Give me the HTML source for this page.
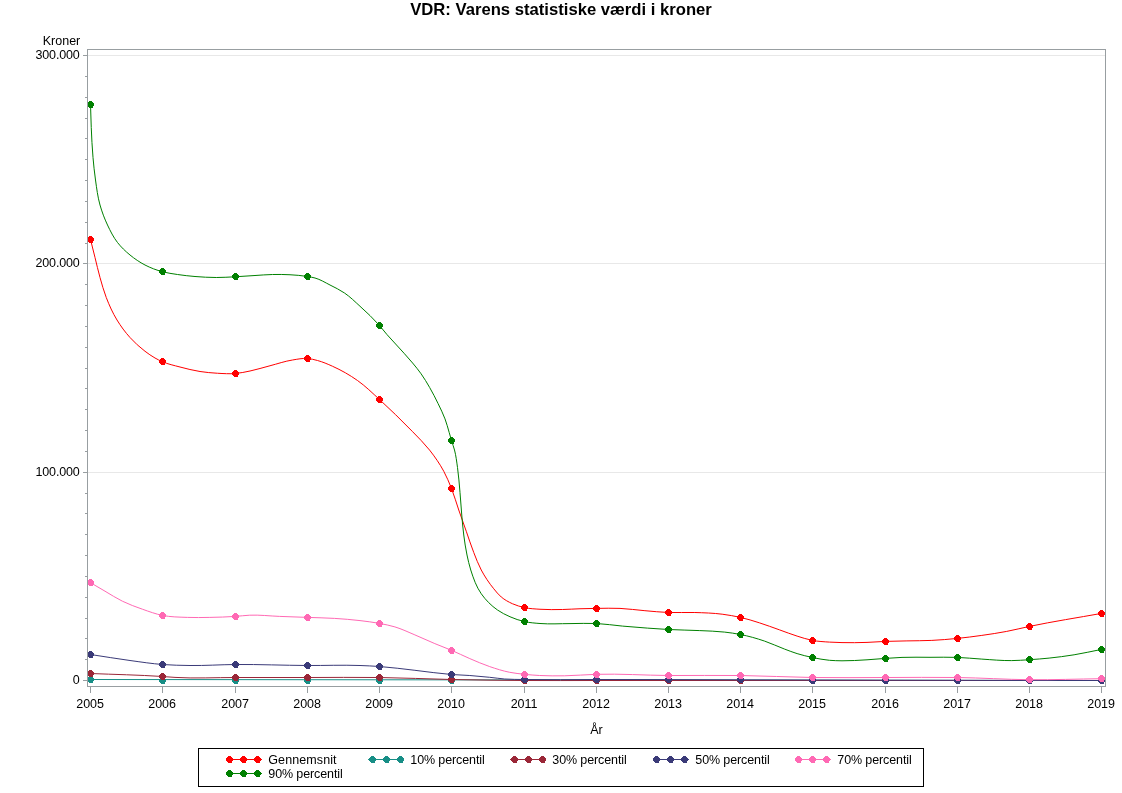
<!DOCTYPE html>
<html><head><meta charset="utf-8"><title>VDR: Varens statistiske værdi i kroner</title>
<style>
html,body{margin:0;padding:0;background:#fff;}
body{width:1122px;height:793px;overflow:hidden;font-family:"Liberation Sans",sans-serif;}
svg{display:block;will-change:transform;}
svg text{font-family:"Liberation Sans",sans-serif;font-size:12.5px;fill:#000;}
svg text.title{font-size:16.67px;font-weight:bold;}
</style></head>
<body>
<svg width="1122" height="793" viewBox="0 0 1122 793">
<rect x="0" y="0" width="1122" height="793" fill="#fff"/>
<text class="title" x="561" y="0" text-anchor="middle" transform="translate(0,14.7) scale(1,0.94)">VDR: Varens statistiske værdi i kroner</text>
<rect x="88" y="55" width="1017" height="1" fill="#E8E8E8"/>
<rect x="88" y="263" width="1017" height="1" fill="#E8E8E8"/>
<rect x="88" y="472" width="1017" height="1" fill="#E8E8E8"/>
<rect x="87.5" y="49.5" width="1018" height="637" fill="none" stroke="#989EA1" stroke-width="1" shape-rendering="crispEdges"/>
<rect x="83" y="680" width="4" height="1" fill="#989EA1"/>
<rect x="85" y="659" width="2" height="1" fill="#989EA1"/>
<rect x="85" y="638" width="2" height="1" fill="#989EA1"/>
<rect x="85" y="618" width="2" height="1" fill="#989EA1"/>
<rect x="85" y="597" width="2" height="1" fill="#989EA1"/>
<rect x="85" y="576" width="2" height="1" fill="#989EA1"/>
<rect x="85" y="555" width="2" height="1" fill="#989EA1"/>
<rect x="85" y="534" width="2" height="1" fill="#989EA1"/>
<rect x="85" y="513" width="2" height="1" fill="#989EA1"/>
<rect x="85" y="493" width="2" height="1" fill="#989EA1"/>
<rect x="83" y="472" width="4" height="1" fill="#989EA1"/>
<rect x="85" y="451" width="2" height="1" fill="#989EA1"/>
<rect x="85" y="430" width="2" height="1" fill="#989EA1"/>
<rect x="85" y="409" width="2" height="1" fill="#989EA1"/>
<rect x="85" y="388" width="2" height="1" fill="#989EA1"/>
<rect x="85" y="368" width="2" height="1" fill="#989EA1"/>
<rect x="85" y="347" width="2" height="1" fill="#989EA1"/>
<rect x="85" y="326" width="2" height="1" fill="#989EA1"/>
<rect x="85" y="305" width="2" height="1" fill="#989EA1"/>
<rect x="85" y="284" width="2" height="1" fill="#989EA1"/>
<rect x="83" y="263" width="4" height="1" fill="#989EA1"/>
<rect x="85" y="243" width="2" height="1" fill="#989EA1"/>
<rect x="85" y="222" width="2" height="1" fill="#989EA1"/>
<rect x="85" y="201" width="2" height="1" fill="#989EA1"/>
<rect x="85" y="180" width="2" height="1" fill="#989EA1"/>
<rect x="85" y="159" width="2" height="1" fill="#989EA1"/>
<rect x="85" y="138" width="2" height="1" fill="#989EA1"/>
<rect x="85" y="118" width="2" height="1" fill="#989EA1"/>
<rect x="85" y="97" width="2" height="1" fill="#989EA1"/>
<rect x="85" y="76" width="2" height="1" fill="#989EA1"/>
<rect x="83" y="55" width="4" height="1" fill="#989EA1"/>
<rect x="90" y="687" width="1" height="6" fill="#989EA1"/>
<rect x="162" y="687" width="1" height="6" fill="#989EA1"/>
<rect x="235" y="687" width="1" height="6" fill="#989EA1"/>
<rect x="307" y="687" width="1" height="6" fill="#989EA1"/>
<rect x="379" y="687" width="1" height="6" fill="#989EA1"/>
<rect x="451" y="687" width="1" height="6" fill="#989EA1"/>
<rect x="524" y="687" width="1" height="6" fill="#989EA1"/>
<rect x="596" y="687" width="1" height="6" fill="#989EA1"/>
<rect x="668" y="687" width="1" height="6" fill="#989EA1"/>
<rect x="740" y="687" width="1" height="6" fill="#989EA1"/>
<rect x="812" y="687" width="1" height="6" fill="#989EA1"/>
<rect x="885" y="687" width="1" height="6" fill="#989EA1"/>
<rect x="957" y="687" width="1" height="6" fill="#989EA1"/>
<rect x="1029" y="687" width="1" height="6" fill="#989EA1"/>
<rect x="1101" y="687" width="1" height="6" fill="#989EA1"/>
<defs><path id="m" d="M-1.5-3.5h3v1h1v1h1v3h-1v2h-4v-1h-1v-1h-1v-3h1v-1h1z"/><clipPath id="pc"><rect x="88" y="50" width="1017" height="636"/></clipPath></defs>
<g clip-path="url(#pc)">
<path d="M90.50 239.50C92.00 245.50 93.50 251.50 95.00 257.50C96.67 264.17 98.14 270.88 100.00 277.50C101.89 284.22 103.74 290.98 106.25 297.50C109.24 305.26 112.66 312.91 117.00 320.00C120.79 326.20 125.12 332.12 130.00 337.50C134.56 342.52 139.60 347.15 145.00 351.25C148.20 353.68 151.50 356.01 155.00 358.00C157.43 359.38 159.94 360.64 162.50 361.75C168.09 364.18 174.11 365.44 180.00 367.00C186.61 368.75 193.25 370.44 200.00 371.50C205.79 372.41 211.65 372.91 217.50 373.25C223.49 373.59 229.52 374.03 235.50 373.50C240.39 373.07 245.20 372.01 250.00 371.00C256.75 369.59 263.33 367.48 270.00 365.75C277.49 363.81 284.86 361.22 292.50 360.00C297.46 359.20 302.49 358.11 307.50 358.50C310.89 358.76 314.22 359.62 317.50 360.50C322.67 361.89 327.61 364.06 332.50 366.25C341.26 370.17 349.66 374.97 357.50 380.50C365.42 386.09 372.33 392.98 379.50 399.50C384.96 404.46 390.30 409.56 395.60 414.70C401.35 420.28 407.04 425.92 412.60 431.70C418.39 437.72 424.43 443.55 429.60 450.10C434.86 456.76 439.73 463.78 443.75 471.25C446.74 476.80 449.17 482.64 451.50 488.50C454.29 495.53 456.28 502.85 458.75 510.00C461.20 517.10 463.75 524.17 466.25 531.25C468.75 538.33 471.00 545.51 473.75 552.50C476.07 558.41 478.27 564.40 481.25 570.00C484.78 576.63 488.98 582.95 493.75 588.75C496.11 591.62 498.40 594.61 501.25 597.00C504.60 599.81 508.51 601.95 512.50 603.75C516.33 605.47 520.40 606.69 524.50 607.60C529.57 608.73 534.82 608.90 540.00 609.25C547.48 609.75 555.00 609.64 562.50 609.50C568.34 609.39 574.16 608.94 580.00 608.75C585.50 608.58 591.00 608.47 596.50 608.40C604.33 608.30 612.17 608.05 620.00 608.40C628.33 608.77 636.59 610.00 644.90 610.70C652.76 611.36 660.62 612.18 668.50 612.50C677.26 612.85 686.04 612.23 694.80 612.50C703.95 612.78 713.12 613.03 722.20 614.20C728.34 614.99 734.46 616.02 740.50 617.40C746.96 618.88 753.29 620.89 759.60 622.90C766.33 625.04 772.94 627.55 779.60 629.90C785.44 631.96 791.19 634.25 797.10 636.10C802.19 637.69 807.27 639.40 812.50 640.40C818.09 641.47 823.82 641.73 829.50 642.10C833.66 642.37 837.83 642.50 842.00 642.60C850.33 642.80 858.67 642.69 867.00 642.40C873.17 642.19 879.33 641.65 885.50 641.40C892.63 641.12 899.77 641.06 906.90 640.90C915.20 640.72 923.51 640.80 931.80 640.40C940.38 639.98 948.95 639.26 957.50 638.40C965.62 637.58 973.72 636.55 981.80 635.40C990.12 634.22 998.44 632.98 1006.70 631.40C1014.34 629.94 1021.89 628.00 1029.50 626.40C1053.37 621.39 1077.50 617.73 1101.50 613.40" fill="none" stroke="#FF0000" stroke-width="1"/>
<g fill="#FF0000" shape-rendering="crispEdges">
<use href="#m" x="90.5" y="239.5"/>
<use href="#m" x="162.5" y="361.5"/>
<use href="#m" x="235.5" y="373.5"/>
<use href="#m" x="307.5" y="358.5"/>
<use href="#m" x="379.5" y="399.5"/>
<use href="#m" x="451.5" y="488.5"/>
<use href="#m" x="524.5" y="607.5"/>
<use href="#m" x="596.5" y="608.5"/>
<use href="#m" x="668.5" y="612.5"/>
<use href="#m" x="740.5" y="617.5"/>
<use href="#m" x="812.5" y="640.5"/>
<use href="#m" x="885.5" y="641.5"/>
<use href="#m" x="957.5" y="638.5"/>
<use href="#m" x="1029.5" y="626.5"/>
<use href="#m" x="1101.5" y="613.5"/>
</g>
<path d="M90.50 679.50C427.50 679.83 764.50 680.17 1101.50 680.50" fill="none" stroke="#178E86" stroke-width="1"/>
<g fill="#178E86" shape-rendering="crispEdges">
<use href="#m" x="90.5" y="679.5"/>
<use href="#m" x="162.5" y="680.5"/>
<use href="#m" x="235.5" y="680.5"/>
<use href="#m" x="307.5" y="680.5"/>
<use href="#m" x="379.5" y="680.5"/>
<use href="#m" x="451.5" y="680.5"/>
<use href="#m" x="524.5" y="680.5"/>
<use href="#m" x="596.5" y="680.5"/>
<use href="#m" x="668.5" y="680.5"/>
<use href="#m" x="740.5" y="680.5"/>
<use href="#m" x="812.5" y="680.5"/>
<use href="#m" x="885.5" y="680.5"/>
<use href="#m" x="957.5" y="680.5"/>
<use href="#m" x="1029.5" y="680.5"/>
<use href="#m" x="1101.5" y="680.5"/>
</g>
<path d="M90.50 673.50C114.50 674.50 138.53 674.88 162.50 676.50C166.67 676.78 170.83 677.15 175.00 677.40C195.13 678.61 215.33 677.48 235.50 677.50C259.50 677.52 283.50 677.50 307.50 677.50C331.50 677.50 355.50 677.17 379.50 677.50C403.51 677.83 427.50 679.00 451.50 679.50C475.83 680.01 500.16 680.33 524.50 680.50C548.50 680.66 572.50 680.50 596.50 680.50C764.83 680.50 933.17 680.50 1101.50 680.50" fill="none" stroke="#9A2637" stroke-width="1"/>
<g fill="#9A2637" shape-rendering="crispEdges">
<use href="#m" x="90.5" y="673.5"/>
<use href="#m" x="162.5" y="676.5"/>
<use href="#m" x="235.5" y="677.5"/>
<use href="#m" x="307.5" y="677.5"/>
<use href="#m" x="379.5" y="677.5"/>
<use href="#m" x="451.5" y="679.5"/>
<use href="#m" x="524.5" y="680.5"/>
<use href="#m" x="596.5" y="680.5"/>
<use href="#m" x="668.5" y="680.5"/>
<use href="#m" x="740.5" y="680.5"/>
<use href="#m" x="812.5" y="680.5"/>
<use href="#m" x="885.5" y="680.5"/>
<use href="#m" x="957.5" y="680.5"/>
<use href="#m" x="1029.5" y="680.5"/>
<use href="#m" x="1101.5" y="680.5"/>
</g>
<path d="M90.50 654.50C103.67 656.50 116.80 658.70 130.00 660.50C140.82 661.97 151.62 663.67 162.50 664.50C171.65 665.19 180.83 665.37 190.00 665.50C205.17 665.72 220.33 664.62 235.50 664.50C259.50 664.31 283.50 665.36 307.50 665.50C325.00 665.60 342.51 664.85 360.00 665.50C366.50 665.74 373.01 666.04 379.50 666.50C391.34 667.34 403.10 668.99 414.90 670.30C427.11 671.65 439.25 673.59 451.50 674.50C457.59 674.95 463.71 675.06 469.80 675.50C476.44 675.98 483.07 676.61 489.70 677.30C494.71 677.82 499.68 678.62 504.70 679.00C511.28 679.49 517.90 679.37 524.50 679.50C548.50 679.98 572.50 679.48 596.50 679.50C620.50 679.52 644.50 679.55 668.50 679.60C692.50 679.65 716.50 679.73 740.50 679.80C764.50 679.87 788.50 679.93 812.50 680.00C836.83 680.07 861.17 680.15 885.50 680.20C909.50 680.25 933.50 680.25 957.50 680.30C981.50 680.35 1005.50 680.47 1029.50 680.50C1053.50 680.53 1077.50 680.50 1101.50 680.50" fill="none" stroke="#3A3A78" stroke-width="1"/>
<g fill="#3A3A78" shape-rendering="crispEdges">
<use href="#m" x="90.5" y="654.5"/>
<use href="#m" x="162.5" y="664.5"/>
<use href="#m" x="235.5" y="664.5"/>
<use href="#m" x="307.5" y="665.5"/>
<use href="#m" x="379.5" y="666.5"/>
<use href="#m" x="451.5" y="674.5"/>
<use href="#m" x="524.5" y="679.5"/>
<use href="#m" x="596.5" y="679.5"/>
<use href="#m" x="668.5" y="679.5"/>
<use href="#m" x="740.5" y="679.5"/>
<use href="#m" x="812.5" y="680.5"/>
<use href="#m" x="885.5" y="680.5"/>
<use href="#m" x="957.5" y="680.5"/>
<use href="#m" x="1029.5" y="680.5"/>
<use href="#m" x="1101.5" y="680.5"/>
</g>
<path d="M90.50 582.70C95.33 585.53 100.16 588.39 105.00 591.20C110.78 594.56 116.39 598.27 122.40 601.20C128.85 604.35 135.63 606.81 142.40 609.20C149.01 611.53 155.63 614.01 162.50 615.40C170.63 617.04 179.01 617.08 187.30 617.40C194.79 617.69 202.30 617.54 209.80 617.40C218.37 617.24 226.95 616.98 235.50 616.40C240.24 616.08 244.95 615.41 249.70 615.20C259.70 614.76 269.70 616.02 279.70 616.40C288.97 616.75 298.23 617.06 307.50 617.40C316.53 617.73 325.58 617.84 334.60 618.40C343.08 618.93 351.56 619.60 360.00 620.60C366.52 621.37 373.05 622.18 379.50 623.40C384.67 624.38 389.86 625.40 394.90 626.90C401.78 628.95 408.28 632.13 414.90 634.90C421.58 637.69 428.12 640.81 434.80 643.60C440.34 645.91 445.98 647.95 451.50 650.30C457.66 652.92 463.64 655.96 469.80 658.60C476.37 661.42 482.93 664.29 489.70 666.60C496.26 668.84 502.90 670.96 509.70 672.30C514.58 673.26 519.55 673.77 524.50 674.30C529.55 674.84 534.62 675.23 539.70 675.50C547.99 675.94 556.30 675.91 564.60 675.80C575.24 675.65 585.86 674.59 596.50 674.30C620.49 673.64 644.50 675.30 668.50 675.50C692.50 675.70 716.50 675.17 740.50 675.50C764.51 675.83 788.49 677.16 812.50 677.50C836.83 677.84 861.17 677.50 885.50 677.50C909.50 677.50 933.50 677.13 957.50 677.50C981.51 677.87 1005.49 679.50 1029.50 679.70C1053.50 679.90 1077.50 679.03 1101.50 678.70" fill="none" stroke="#FF69B4" stroke-width="1"/>
<g fill="#FF69B4" shape-rendering="crispEdges">
<use href="#m" x="90.5" y="582.5"/>
<use href="#m" x="162.5" y="615.5"/>
<use href="#m" x="235.5" y="616.5"/>
<use href="#m" x="307.5" y="617.5"/>
<use href="#m" x="379.5" y="623.5"/>
<use href="#m" x="451.5" y="650.5"/>
<use href="#m" x="524.5" y="674.5"/>
<use href="#m" x="596.5" y="674.5"/>
<use href="#m" x="668.5" y="675.5"/>
<use href="#m" x="740.5" y="675.5"/>
<use href="#m" x="812.5" y="677.5"/>
<use href="#m" x="885.5" y="677.5"/>
<use href="#m" x="957.5" y="677.5"/>
<use href="#m" x="1029.5" y="679.5"/>
<use href="#m" x="1101.5" y="678.5"/>
</g>
<path d="M90.50 104.50C90.75 112.17 90.91 119.84 91.25 127.50C91.69 137.51 92.12 147.52 93.00 157.50C93.66 165.02 94.43 172.53 95.50 180.00C96.70 188.38 97.69 196.85 100.00 205.00C101.94 211.85 104.46 218.56 107.50 225.00C110.37 231.07 113.38 237.20 117.50 242.50C121.12 247.15 125.45 251.26 130.00 255.00C134.64 258.81 139.67 262.22 145.00 265.00C150.54 267.89 156.47 270.11 162.50 271.75C167.41 273.08 172.47 273.74 177.50 274.50C183.31 275.38 189.15 276.01 195.00 276.50C202.07 277.09 209.16 277.49 216.25 277.50C222.67 277.51 229.09 277.08 235.50 276.75C242.00 276.42 248.50 275.89 255.00 275.50C260.83 275.15 266.66 274.62 272.50 274.50C278.33 274.38 284.18 274.42 290.00 274.75C295.85 275.08 301.72 275.52 307.50 276.50C310.01 276.93 312.54 277.31 315.00 278.00C320.31 279.49 325.08 282.50 330.00 285.00C334.92 287.50 339.93 289.91 344.50 293.00C350.13 296.81 354.97 301.68 360.00 306.25C366.76 312.39 373.48 318.63 379.50 325.50C382.09 328.45 384.43 331.63 387.00 334.60C389.78 337.81 392.73 340.87 395.60 344.00C398.43 347.10 401.30 350.17 404.10 353.30C406.97 356.50 409.85 359.70 412.60 363.00C415.53 366.52 418.45 370.06 421.10 373.80C424.19 378.16 426.93 382.77 429.60 387.40C432.65 392.68 435.44 398.11 438.10 403.60C440.54 408.63 443.05 413.66 445.00 418.90C446.66 423.35 447.86 427.95 449.20 432.50C449.99 435.16 450.70 437.84 451.50 440.50C452.46 443.68 453.66 446.79 454.50 450.00C456.00 455.72 456.67 461.64 457.50 467.50C458.67 475.79 459.26 484.16 460.00 492.50C460.66 499.99 461.08 507.51 461.75 515.00C462.35 521.67 462.88 528.36 463.75 535.00C464.63 541.70 465.60 548.39 467.00 555.00C468.07 560.04 469.18 565.09 470.75 570.00C473.38 578.25 476.28 586.67 481.25 593.75C485.65 600.02 491.20 605.64 497.50 610.00C501.39 612.70 505.66 614.85 510.00 616.75C514.67 618.79 519.53 620.47 524.50 621.60C529.58 622.75 534.81 623.08 540.00 623.50C549.97 624.31 560.00 623.60 570.00 623.60C578.83 623.60 587.68 623.07 596.50 623.50C605.20 623.92 613.83 625.32 622.50 626.10C630.76 626.84 639.03 627.50 647.30 628.10C654.36 628.61 661.43 629.12 668.50 629.50C678.91 630.06 689.34 630.09 699.75 630.60C708.07 631.01 716.42 631.14 724.70 632.10C729.99 632.71 735.28 633.46 740.50 634.50C748.67 636.12 756.72 638.42 764.60 641.10C771.40 643.41 777.88 646.58 784.60 649.10C788.75 650.66 792.87 652.29 797.10 653.60C802.16 655.17 807.32 656.41 812.50 657.50C818.12 658.68 823.78 659.77 829.50 660.30C833.65 660.68 837.83 660.74 842.00 660.80C850.34 660.91 858.68 660.30 867.00 659.80C873.17 659.43 879.33 658.82 885.50 658.40C891.00 658.03 896.49 657.62 902.00 657.40C911.33 657.03 920.67 657.30 930.00 657.30C939.17 657.30 948.34 657.04 957.50 657.40C965.61 657.71 973.70 658.61 981.80 659.10C991.76 659.71 1001.72 660.73 1011.70 660.60C1017.64 660.52 1023.57 660.09 1029.50 659.70C1036.04 659.27 1042.58 658.78 1049.10 658.10C1057.46 657.23 1065.80 656.15 1074.10 654.80C1083.29 653.30 1092.37 651.20 1101.50 649.40" fill="none" stroke="#008000" stroke-width="1"/>
<g fill="#008000" shape-rendering="crispEdges">
<use href="#m" x="90.5" y="104.5"/>
<use href="#m" x="162.5" y="271.5"/>
<use href="#m" x="235.5" y="276.5"/>
<use href="#m" x="307.5" y="276.5"/>
<use href="#m" x="379.5" y="325.5"/>
<use href="#m" x="451.5" y="440.5"/>
<use href="#m" x="524.5" y="621.5"/>
<use href="#m" x="596.5" y="623.5"/>
<use href="#m" x="668.5" y="629.5"/>
<use href="#m" x="740.5" y="634.5"/>
<use href="#m" x="812.5" y="657.5"/>
<use href="#m" x="885.5" y="658.5"/>
<use href="#m" x="957.5" y="657.5"/>
<use href="#m" x="1029.5" y="659.5"/>
<use href="#m" x="1101.5" y="649.5"/>
</g>
</g>
<rect x="198.5" y="748.5" width="725" height="38" fill="#fff" stroke="#000" stroke-width="1" shape-rendering="crispEdges"/>
<rect x="226" y="759" width="36" height="1" fill="#FF0000"/>
<g fill="#FF0000" shape-rendering="crispEdges">
<use href="#m" x="229.5" y="759.5"/>
<use href="#m" x="243.5" y="759.5"/>
<use href="#m" x="257.5" y="759.5"/>
</g>
<rect x="368" y="759" width="36" height="1" fill="#178E86"/>
<g fill="#178E86" shape-rendering="crispEdges">
<use href="#m" x="372.5" y="759.5"/>
<use href="#m" x="386.5" y="759.5"/>
<use href="#m" x="400.5" y="759.5"/>
</g>
<rect x="510" y="759" width="36" height="1" fill="#9A2637"/>
<g fill="#9A2637" shape-rendering="crispEdges">
<use href="#m" x="514.5" y="759.5"/>
<use href="#m" x="528.5" y="759.5"/>
<use href="#m" x="542.5" y="759.5"/>
</g>
<rect x="653" y="759" width="36" height="1" fill="#3A3A78"/>
<g fill="#3A3A78" shape-rendering="crispEdges">
<use href="#m" x="656.5" y="759.5"/>
<use href="#m" x="670.5" y="759.5"/>
<use href="#m" x="684.5" y="759.5"/>
</g>
<rect x="795" y="759" width="36" height="1" fill="#FF69B4"/>
<g fill="#FF69B4" shape-rendering="crispEdges">
<use href="#m" x="798.5" y="759.5"/>
<use href="#m" x="812.5" y="759.5"/>
<use href="#m" x="826.5" y="759.5"/>
</g>
<rect x="226" y="773" width="36" height="1" fill="#008000"/>
<g fill="#008000" shape-rendering="crispEdges">
<use href="#m" x="229.5" y="773.5"/>
<use href="#m" x="243.5" y="773.5"/>
<use href="#m" x="257.5" y="773.5"/>
</g>
<text x="79.6" y="59" text-anchor="end" letter-spacing="-0.16">300.000</text>
<text x="79.6" y="267" text-anchor="end" letter-spacing="-0.16">200.000</text>
<text x="79.6" y="476" text-anchor="end" letter-spacing="-0.16">100.000</text>
<text x="79.6" y="684" text-anchor="end" letter-spacing="-0.16">0</text>
<text x="80.3" y="45" text-anchor="end" font-size="12.9">Kroner</text>
<text x="90.1" y="708" text-anchor="middle">2005</text>
<text x="162.1" y="708" text-anchor="middle">2006</text>
<text x="235.1" y="708" text-anchor="middle">2007</text>
<text x="307.1" y="708" text-anchor="middle">2008</text>
<text x="379.1" y="708" text-anchor="middle">2009</text>
<text x="451.1" y="708" text-anchor="middle">2010</text>
<text x="524.1" y="708" text-anchor="middle">2011</text>
<text x="596.1" y="708" text-anchor="middle">2012</text>
<text x="668.1" y="708" text-anchor="middle">2013</text>
<text x="740.1" y="708" text-anchor="middle">2014</text>
<text x="812.1" y="708" text-anchor="middle">2015</text>
<text x="885.1" y="708" text-anchor="middle">2016</text>
<text x="957.1" y="708" text-anchor="middle">2017</text>
<text x="1029.1" y="708" text-anchor="middle">2018</text>
<text x="1101.1" y="708" text-anchor="middle">2019</text>
<text x="596.4" y="733.5" text-anchor="middle">År</text>
<text x="268.3" y="763.8" letter-spacing="0.1">Gennemsnit</text>
<text x="410.3" y="763.8" letter-spacing="-0.11">10% percentil</text>
<text x="552.3" y="763.8" letter-spacing="-0.11">30% percentil</text>
<text x="695.3" y="763.8" letter-spacing="-0.11">50% percentil</text>
<text x="837.3" y="763.8" letter-spacing="-0.11">70% percentil</text>
<text x="268.3" y="777.8" letter-spacing="-0.11">90% percentil</text>
</svg>
</body></html>
